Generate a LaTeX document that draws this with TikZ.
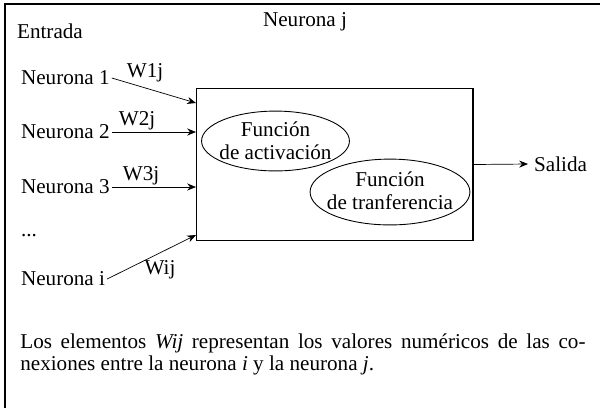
\documentclass[tikz,border=0pt]{standalone}
\usepackage{fontspec}
\setmainfont{Liberation Serif}
\usetikzlibrary{arrows.meta}
\tikzset{
	funcion/.style={align=center, inner sep=0pt, font=\fontsize{12}{13}\selectfont},
	entrada/.style={anchor=west, inner sep=1pt},
	peso/.style={inner sep=0pt}
}

\begin{document}
\begin{tikzpicture}[
    x=0.568pt, y=-0.568pt,
    font=\fontsize{12}{14}\selectfont,
    >={Stealth[length=5pt,width=4pt]},
    ]
    \useasboundingbox (0,0) rectangle (600,408);
    \draw[line width=0.8pt] (5,408) -- (5,4) -- (600,4); % marco

    \node (entrada) at (50,31) {Entrada};
    \node (neuronaj) at (305,22) {Neurona j};

    % neurona j
    \node[draw, line width=0.6pt, minimum width=157.3pt, minimum height=86.3pt] (caja) at (334.5,164.5) {};
    \node[funcion] (activacion) at (275.5,141) {Función\\de activación};
    \node[funcion] (transferencia) at (390,191) {Función\\de tranferencia};
    \draw[line width=0.5pt] (275.5,141) ellipse [x radius=42pt, y radius=17pt];
    \draw[line width=0.5pt] (390,192) ellipse [x radius=45.4pt, y radius=18.7pt];

    % entradas
    \node[entrada] (n1) at (19,78) {Neurona 1};
    \node[entrada] (n2) at (19,132) {Neurona 2};
    \node[entrada] (n3) at (19,187) {Neurona 3};
    \node[entrada] (puntos) at (19,236) {...};
    \node[entrada] (ni) at (19,279) {Neurona i};

    \coordinate (e1) at (196,103);
    \coordinate (e2) at (196,132);
    \coordinate (e3) at (196,187);
    \coordinate (ei) at (196,235);

    \draw[->] (n1.east) -- (e1);
    \draw[->] (n2.east) -- (e2);
    \draw[->] (n3.east) -- (e3);
    \draw[->] (ni.east) -- (ei);

    % pesos
    \node[peso] (w1) at (145,73) {W1j};
    \node[peso] (w2) at (137,121) {W2j};
    \node[peso] (w3) at (141,176) {W3j};
    \node[peso] (wi) at (160,270) {Wij};

    % salida
    \node[anchor=west] (salida) at (528,164) {Salida};
    \draw[->] (caja.east) -- (salida.west);

    \node[anchor=north west, text width=321pt, align=justify, inner sep=0pt,
          font=\fontsize{12}{12.8}\selectfont] (nota) at (20,333)
      {Los elementos \textit{Wij} representan los valores numéricos de las co-\linebreak
       nexiones entre la neurona \textit{i} y la neurona \textit{j}.};
\end{tikzpicture}
\end{document}
